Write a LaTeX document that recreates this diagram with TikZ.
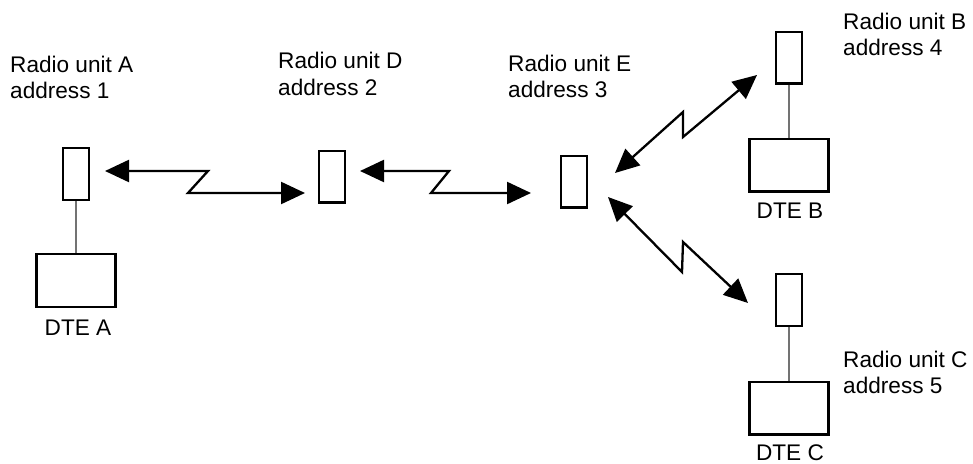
\documentclass[tikz,border=0pt]{standalone}
\usepackage{fontspec}
\setmainfont{Liberation Sans}
\usetikzlibrary{arrows.meta}
\tikzset{
  radio/.style={draw, line width=2.4pt, minimum width=25.6pt, minimum height=51.6pt, inner sep=0pt},
  dte/.style={draw, line width=2.4pt, minimum width=78.8pt, minimum height=52.6pt, inner sep=0pt},
  cable/.style={draw=black!55, line width=1.2pt},
  link/.style={line width=2.3pt, line join=miter, {Triangle[length=24pt,width=22pt]}-{Triangle[length=24pt,width=22pt]}},
  unitlabel/.style={anchor=base west, align=left, inner sep=0pt, font=\fontsize{22.6}{26.6}\selectfont},
  dtelabel/.style={anchor=base, inner sep=0pt, font=\fontsize{22.6}{26.6}\selectfont}
}

\begin{document}
\begin{tikzpicture}[x=1pt,y=-1pt]
		%%%%% START %%%%%
		\useasboundingbox (0,0) rectangle (973,463);
		
		\node[radio] (radA) at (76, 174) {};
		\node[dte] (dteA) at (76, 280.5) {};
		\node[dtelabel] (txtdteA) at (78, 335) {DTE A};
		\node[unitlabel] (lblA) at (10, 98.6) {Radio unit A\\address 1};
		\draw[cable] (radA) -- (dteA);
		
		\node[radio] (radD) at (332, 176.5) {};
		\node[unitlabel] (lblD) at (278, 95) {Radio unit D\\address 2};
		
		\node[radio] (radE) at (574, 181.5) {};
		\node[unitlabel] (lblE) at (508, 97.6) {Radio unit E\\address 3};
		
		\node[radio] (radB) at (789, 57.5) {};
		\node[dte] (dteB) at (789, 165) {};
		\node[dtelabel] (txtdteB) at (790, 218) {DTE B};
		\node[unitlabel] (lblB) at (843, 55.6) {Radio unit B\\address 4};
		\draw[cable] (radB) -- (dteB);
		
		\node[radio] (radC) at (789, 300) {};
		\node[dte] (dteC) at (789, 408) {};
		\node[dtelabel] (txtdteC) at (790, 460) {DTE C};
		\node[unitlabel] (lblC) at (843, 393.6) {Radio unit C\\address 5};
		\draw[cable] (radC) -- (dteC);
		
		% radio links
		\coordinate (adk1) at (208, 171);
		\coordinate (adk2) at (188, 193);
		\draw[link, shorten <=15pt, shorten >=13pt] (radA.east |- adk1) -- (adk1) -- (adk2) -- (radD.west |- adk2);
		
		\coordinate (dek1) at (449, 171);
		\coordinate (dek2) at (431, 193);
		\draw[link, shorten <=14pt, shorten >=29pt] (radD.east |- dek1) -- (dek1) -- (dek2) -- (radE.west |- dek2);
		
		\coordinate (ebtipE) at (615, 173);
		\coordinate (ebk1) at (683, 112);
		\coordinate (ebk2) at (683, 137);
		\coordinate (ebtipB) at (757, 75);
		\draw[link] (ebtipE) -- (ebk1) -- (ebk2) -- (ebtipB);
		
		\coordinate (ectipE) at (608, 197);
		\coordinate (eck1) at (682, 272);
		\coordinate (eck2) at (683, 242);
		\coordinate (ectipC) at (748, 303);
		\draw[link] (ectipE) -- (eck1) -- (eck2) -- (ectipC);
		
		%%%%% END %%%%%
\end{tikzpicture}
\end{document}
